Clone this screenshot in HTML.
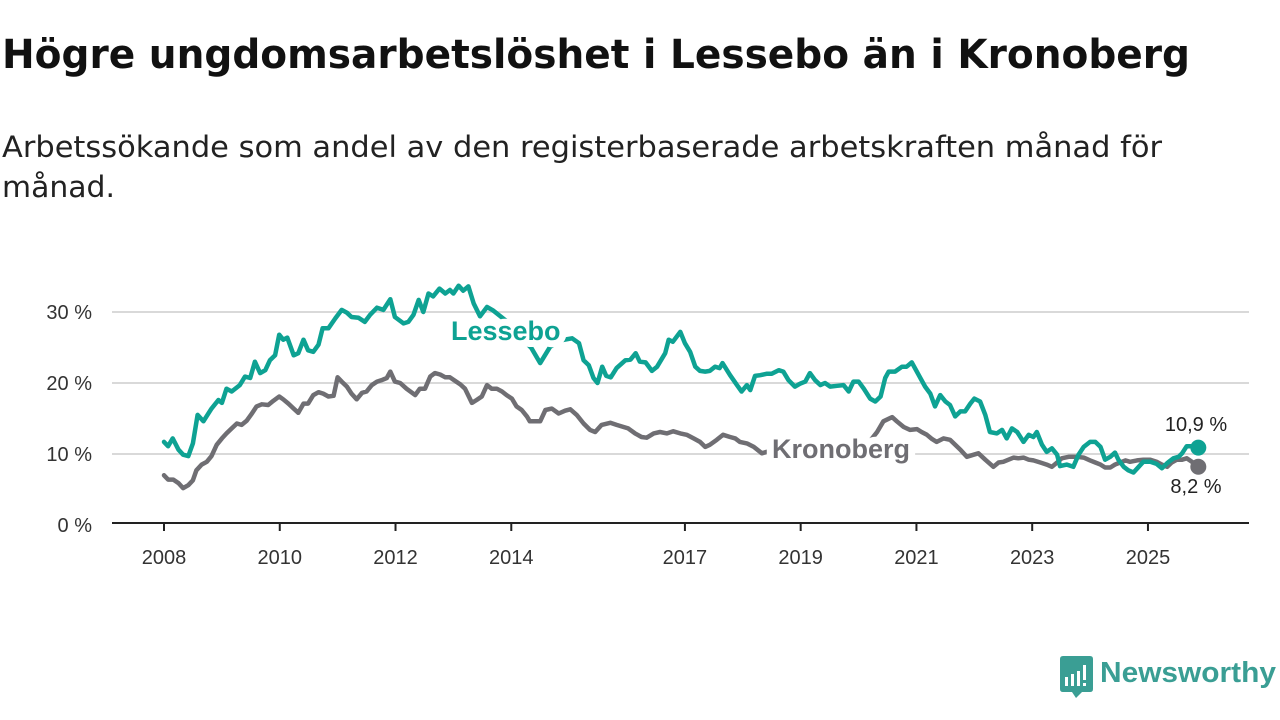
<!DOCTYPE html>
<html><head><meta charset="utf-8"><style>
body{margin:0;width:1280px;height:720px;background:#fff;overflow:hidden;font-family:"Liberation Sans",sans-serif;}
svg{position:absolute;left:0;top:0;}
</style></head><body>
<svg width="1280" height="220">
  <text x="2" y="68" font-size="40" font-weight="bold" fill="#111" font-family="DejaVu Sans, sans-serif" textLength="1188" lengthAdjust="spacingAndGlyphs">Högre ungdomsarbetslöshet i Lessebo än i Kronoberg</text>
  <text x="2" y="157" font-size="29" fill="#222" font-family="DejaVu Sans, sans-serif" textLength="1160" lengthAdjust="spacingAndGlyphs">Arbetssökande som andel av den registerbaserade arbetskraften månad för</text>
  <text x="2" y="197" font-size="29" fill="#222" font-family="DejaVu Sans, sans-serif" textLength="113" lengthAdjust="spacingAndGlyphs">månad.</text>
</svg>
<svg id="chart" width="1280" height="720"></svg>
<script>
const yTicks=[0,10,20,30];
const yTickLabels=["0 %","10 %","20 %","30 %"];
const xTicks=[2008,2010,2012,2014,2017,2019,2021,2023,2025];
const lessDates=[2008.0,2008.07,2008.15,2008.25,2008.33,2008.42,2008.5,2008.58,2008.68,2008.82,2008.94,2009.0,2009.08,2009.17,2009.31,2009.4,2009.49,2009.57,2009.66,2009.75,2009.83,2009.92,2009.99,2010.06,2010.13,2010.24,2010.32,2010.41,2010.49,2010.58,2010.67,2010.74,2010.84,2010.96,2011.07,2011.16,2011.24,2011.36,2011.47,2011.56,2011.68,2011.79,2011.91,2011.99,2012.14,2012.22,2012.31,2012.4,2012.48,2012.57,2012.65,2012.76,2012.86,2012.94,2013.0,2013.09,2013.17,2013.26,2013.35,2013.46,2013.58,2013.69,2013.78,2013.95,2014.1,2014.35,2014.5,2014.67,2014.85,2015.05,2015.17,2015.25,2015.34,2015.42,2015.49,2015.57,2015.64,2015.72,2015.82,2015.97,2016.06,2016.15,2016.22,2016.32,2016.43,2016.52,2016.66,2016.72,2016.79,2016.92,2017.0,2017.09,2017.18,2017.26,2017.35,2017.43,2017.52,2017.6,2017.65,2017.78,2017.9,2017.98,2018.07,2018.13,2018.21,2018.3,2018.41,2018.5,2018.62,2018.7,2018.79,2018.9,2018.99,2019.08,2019.16,2019.25,2019.34,2019.42,2019.51,2019.63,2019.74,2019.83,2019.91,2020.0,2020.09,2020.2,2020.29,2020.38,2020.46,2020.52,2020.63,2020.75,2020.83,2020.92,2021.04,2021.15,2021.24,2021.32,2021.41,2021.5,2021.58,2021.67,2021.76,2021.84,2021.93,2022.0,2022.1,2022.19,2022.27,2022.39,2022.48,2022.56,2022.65,2022.74,2022.85,2022.94,2023.02,2023.08,2023.17,2023.25,2023.34,2023.43,2023.48,2023.6,2023.71,2023.8,2023.89,2024.0,2024.09,2024.18,2024.26,2024.35,2024.43,2024.49,2024.58,2024.66,2024.75,2024.84,2024.92,2025.04,2025.15,2025.24,2025.33,2025.44,2025.53,2025.59,2025.67,2025.76,2025.87];
const lessValues=[11.7,11.1,12.2,10.6,9.9,9.7,11.5,15.5,14.6,16.4,17.6,17.2,19.2,18.8,19.7,20.9,20.7,23.0,21.4,21.8,23.2,23.9,26.8,26.1,26.4,23.9,24.2,26.1,24.6,24.4,25.4,27.7,27.7,29.1,30.3,29.9,29.3,29.2,28.6,29.6,30.6,30.3,31.8,29.3,28.4,28.6,29.6,31.7,30.0,32.6,32.2,33.3,32.6,33.1,32.6,33.7,33.0,33.6,31.2,29.4,30.7,30.2,29.6,28.5,27.0,24.9,22.8,25.1,26.0,26.3,25.6,23.2,22.5,20.7,20.0,22.3,21.0,20.8,22.1,23.2,23.3,24.2,23.0,22.9,21.7,22.3,24.2,26.1,25.8,27.2,25.6,24.4,22.3,21.7,21.6,21.7,22.3,22.1,22.8,21.1,19.7,18.8,19.7,19.0,21.0,21.1,21.3,21.3,21.8,21.6,20.4,19.5,19.9,20.2,21.4,20.4,19.7,20.0,19.5,19.6,19.7,18.8,20.2,20.2,19.2,17.8,17.4,18.1,20.7,21.6,21.6,22.3,22.3,22.9,21.1,19.5,18.5,16.7,18.3,17.4,16.9,15.3,16.0,16.0,17.1,17.8,17.4,15.5,13.1,12.9,13.4,12.2,13.6,13.1,11.7,12.7,12.4,13.1,11.3,10.3,10.8,9.9,8.3,8.5,8.2,9.9,11.0,11.7,11.7,11.0,9.2,9.6,10.2,9.2,8.2,7.7,7.4,8.2,8.9,8.9,8.6,8.0,8.7,9.4,9.6,10.1,11.1,11.1,10.9];
const kronDates=[2008.0,2008.07,2008.16,2008.25,2008.33,2008.42,2008.5,2008.56,2008.65,2008.74,2008.82,2008.91,2009.0,2009.08,2009.17,2009.26,2009.34,2009.43,2009.51,2009.6,2009.69,2009.8,2009.89,2009.99,2010.06,2010.15,2010.24,2010.32,2010.41,2010.49,2010.58,2010.67,2010.75,2010.84,2010.93,2011.0,2011.07,2011.16,2011.24,2011.33,2011.42,2011.5,2011.59,2011.68,2011.76,2011.85,2011.91,2011.99,2012.08,2012.19,2012.34,2012.42,2012.51,2012.6,2012.68,2012.77,2012.86,2012.94,2013.03,2013.12,2013.2,2013.32,2013.4,2013.49,2013.58,2013.66,2013.75,2013.84,2013.92,2014.01,2014.09,2014.18,2014.27,2014.32,2014.5,2014.59,2014.7,2014.82,2014.93,2015.02,2015.13,2015.25,2015.36,2015.45,2015.56,2015.71,2015.82,2015.94,2016.02,2016.14,2016.25,2016.34,2016.46,2016.57,2016.69,2016.8,2016.92,2017.03,2017.15,2017.26,2017.35,2017.43,2017.55,2017.66,2017.78,2017.87,2017.95,2018.07,2018.19,2018.33,2018.41,2018.8,2019.3,2019.8,2020.1,2020.32,2020.43,2020.58,2020.66,2020.78,2020.89,2021.01,2021.09,2021.18,2021.27,2021.35,2021.47,2021.58,2021.67,2021.76,2021.87,2021.99,2022.07,2022.19,2022.33,2022.42,2022.5,2022.59,2022.68,2022.76,2022.85,2022.94,2023.02,2023.14,2023.25,2023.34,2023.43,2023.51,2023.63,2023.77,2023.89,2024.0,2024.09,2024.18,2024.26,2024.35,2024.43,2024.52,2024.61,2024.69,2024.81,2024.92,2025.04,2025.15,2025.24,2025.33,2025.41,2025.5,2025.59,2025.67,2025.76,2025.87];
const kronValues=[7.0,6.4,6.4,5.9,5.2,5.6,6.3,7.7,8.5,8.9,9.7,11.3,12.2,12.9,13.6,14.3,14.1,14.7,15.6,16.7,17.0,16.9,17.5,18.1,17.7,17.1,16.4,15.8,17.1,17.1,18.3,18.7,18.5,18.1,18.2,20.8,20.2,19.5,18.5,17.7,18.6,18.8,19.7,20.2,20.4,20.7,21.6,20.2,20.0,19.2,18.3,19.2,19.2,20.9,21.4,21.2,20.8,20.8,20.3,19.8,19.2,17.2,17.6,18.1,19.7,19.2,19.2,18.8,18.3,17.8,16.7,16.2,15.3,14.6,14.6,16.2,16.4,15.7,16.1,16.3,15.5,14.3,13.4,13.1,14.1,14.4,14.1,13.8,13.6,12.9,12.4,12.3,12.9,13.1,12.9,13.2,12.9,12.7,12.2,11.7,11.0,11.3,12.0,12.7,12.4,12.2,11.7,11.5,11.0,10.1,10.3,10.4,10.5,10.6,10.8,13.1,14.6,15.2,14.6,13.8,13.4,13.5,13.1,12.7,12.1,11.7,12.2,12.0,11.3,10.6,9.6,9.9,10.1,9.2,8.2,8.8,8.9,9.2,9.5,9.4,9.5,9.2,9.1,8.8,8.5,8.2,8.8,9.4,9.6,9.6,9.5,9.1,8.8,8.5,8.1,8.1,8.5,8.8,9.1,8.9,9.1,9.2,9.2,8.9,8.5,8.2,8.8,9.2,9.2,9.4,8.9,8.2];

const NS="http://www.w3.org/2000/svg";
const svg=document.getElementById('chart');
const X0=112,X1=1249;
function xs(d){return 164+(d-2008)*57.88;}
function ys(v){return 525-v*7.1;}
function mk(tag,attrs,parent){const e=document.createElementNS(NS,tag);for(const k in attrs)e.setAttribute(k,attrs[k]);(parent||svg).appendChild(e);return e;}
yTicks.forEach((t,i)=>{
  if(t>0){const g=mk('line',{x1:X0,x2:X1,y1:ys(t),y2:ys(t),stroke:'#d9d9d9','stroke-width':2});
  
  }
  const tx=mk('text',{x:92,y:ys(t)+7,'text-anchor':'end','font-size':20,fill:'#333'});
  tx.textContent=yTickLabels[i];
  
  
});
const ax=mk('line',{x1:X0,x2:X1,y1:523,y2:523,stroke:'#222','stroke-width':2});


xTicks.forEach(t=>{
  const tk=mk('line',{x1:xs(t),x2:xs(t),y1:523,y2:531,stroke:'#222','stroke-width':2});
  
  
  const tx=mk('text',{x:xs(t),y:564,'text-anchor':'middle','font-size':20,fill:'#333'});
  tx.textContent=t;
  
  
});
function series(dates,vals,color,name){
  const d=dates.map((t,i)=>(i?'L':'M')+xs(t).toFixed(1)+','+ys(vals[i]).toFixed(1)).join('');
  const p=mk('path',{d:d,fill:'none',stroke:color,'stroke-width':4.5,'stroke-linejoin':'round','stroke-linecap':'round'});
  
  
  const n=dates.length-1;
  const c=mk('circle',{cx:xs(dates[n]),cy:ys(vals[n]),r:8,fill:color});
  
  
}
series(kronDates,kronValues,'#6f6e73','kronoberg');
series(lessDates,lessValues,'#0ea293','lessebo');
function label(x,y,txt,color,size,weight,name,anchor,halo){
  const t=mk('text',{x:x,y:y,'font-size':size,'font-weight':weight,fill:color,stroke:'#fff','stroke-width':halo,'paint-order':'stroke','stroke-linejoin':'round','text-anchor':anchor||'start'});
  t.textContent=txt;
  
  
}
label(451,340,'Lessebo','#0ea293',27,'bold','lessebo-label','start',14);
label(772,458,'Kronoberg','#6f6e73',27,'bold','kronoberg-label','start',14);
label(1196,431,'10,9 %','#222',20,'normal','lessebo-end-value','middle',7);
label(1196,493,'8,2 %','#222',20,'normal','kronoberg-end-value','middle',7);
</script>
<svg width="1280" height="720" style="pointer-events:none">
  <path d="M1063 656 H1090 Q1093 656 1093 659 V689 Q1093 692 1090 692 H1082 L1076 698 L1072 692 H1063 Q1060 692 1060 689 V659 Q1060 656 1063 656Z" fill="#3a9e94"/>
  <rect x="1065" y="677" width="3" height="9" fill="#fff"/><rect x="1071" y="674" width="3" height="12" fill="#fff"/><rect x="1077" y="671" width="3" height="15" fill="#fff"/><rect x="1083" y="665" width="3" height="15" fill="#fff"/><rect x="1083" y="683" width="3" height="3" fill="#fff"/>
  <text x="1100" y="682" font-size="29" font-weight="bold" fill="#3a9e94" font-family="Liberation Sans, sans-serif" textLength="176" lengthAdjust="spacingAndGlyphs">Newsworthy</text>
</svg>
</body></html>
